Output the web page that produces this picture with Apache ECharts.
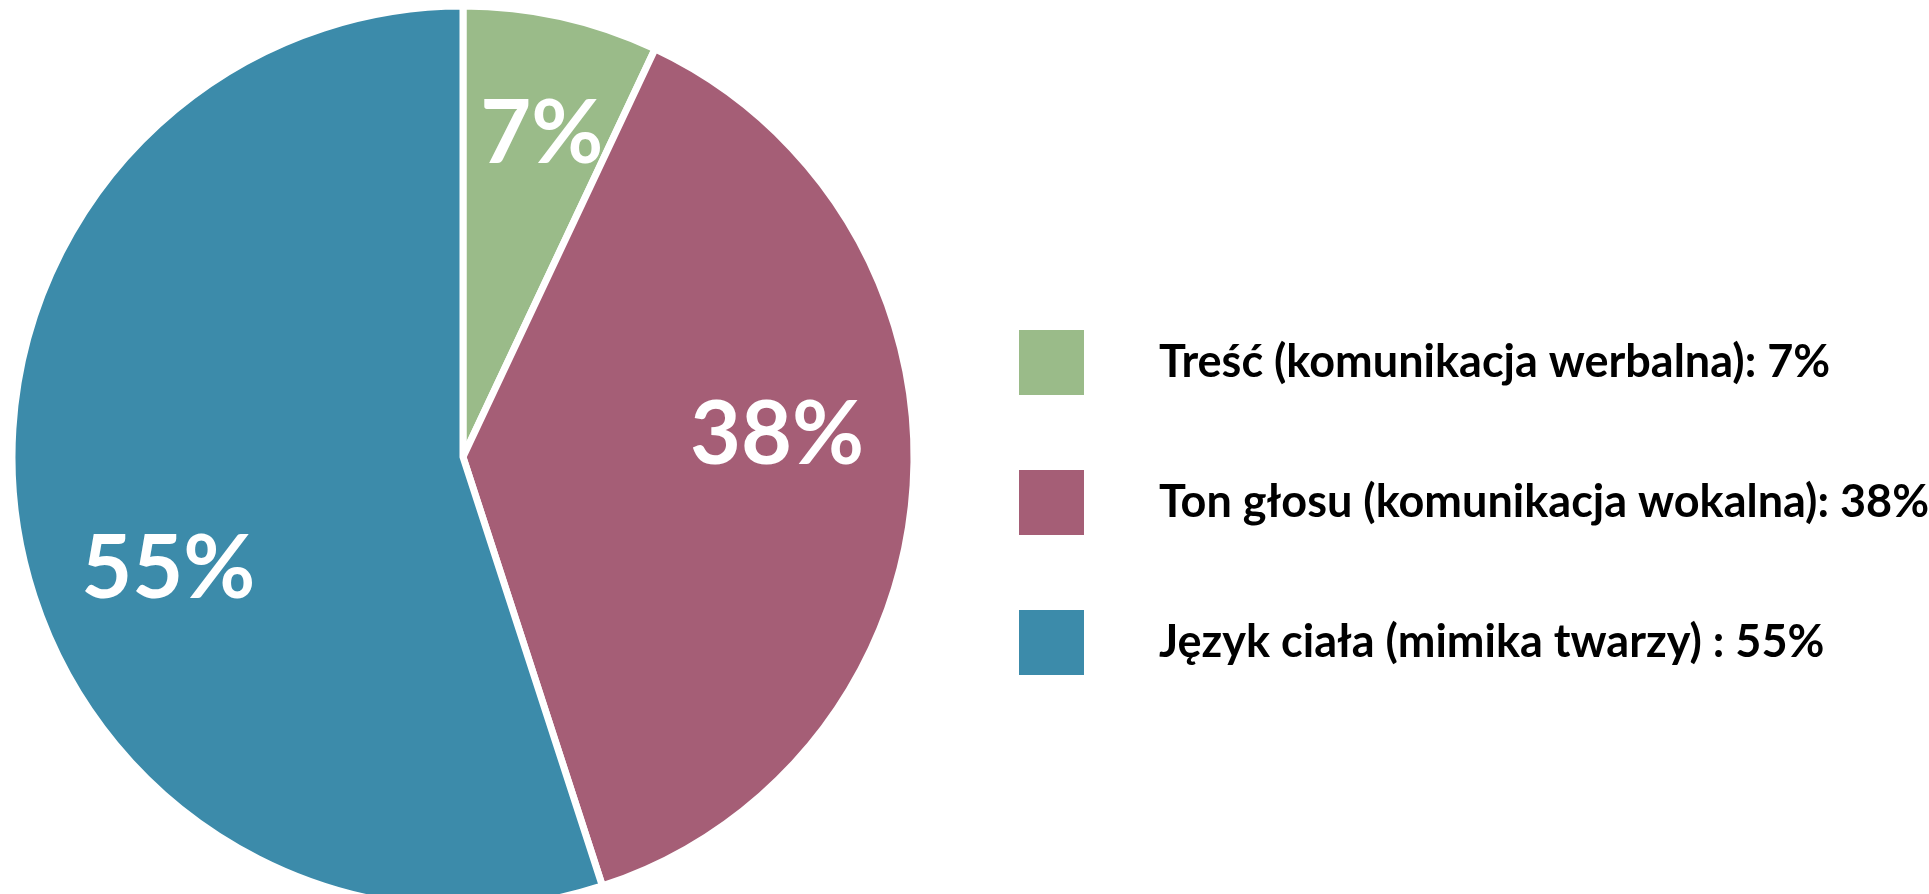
<!DOCTYPE html>
<html>
<head>
<meta charset="utf-8">
<title>Komunikacja</title>
<script src="https://cdn.jsdelivr.net/npm/echarts@6/dist/echarts.min.js"></script>
<style>
  html, body { margin: 0; padding: 0; background: #fff; }
  #chart { width: 1929px; height: 894px; }
</style>
</head>
<body>
<div id="chart"></div>
<script>
// slice names, values and the legend texts as printed
const categories = ['Treść (komunikacja werbalna)', 'Ton głosu (komunikacja wokalna)', 'Język ciała (mimika twarzy)']
const values = [7, 38, 55]
const legendLabels = ['Treść (komunikacja werbalna): 7%', 'Ton głosu (komunikacja wokalna): 38%', 'Język ciała (mimika twarzy) : 55%']

const COLORS = ['#9abb89', '#a55e76', '#3c8baa']
// labels sit further out than echarts' default 'inside' spot
const LABEL_OFFSETS = [[29, -99], [86, -36], [-69, 77]]
const FONT = 'Lato, "Open Sans", sans-serif'

const chart = echarts.init(document.getElementById('chart'))

chart.setOption({
  backgroundColor: '#ffffff',
  animation: false,
  legend: {
    orient: 'vertical',
    left: 1012,
    top: 323,
    itemWidth: 67,
    itemHeight: 67,
    itemGap: 71,
    icon: 'rect',
    selectedMode: false,
    data: categories,
    formatter: (name) => legendLabels[categories.indexOf(name)],
    textStyle: {
      fontFamily: FONT,
      fontWeight: 'bold',
      fontSize: 45,
      color: '#000',
      padding: [0, 0, 0, 69]
    }
  },
  series: [
    {
      type: 'pie',
      center: [463, 457],
      radius: 451,
      startAngle: 90,
      clockwise: true,
      itemStyle: { borderColor: '#fff', borderWidth: 7 },
      label: {
        show: true,
        position: 'inside',
        formatter: '{c}%',
        color: '#fff',
        fontFamily: FONT,
        fontWeight: 'bold',
        fontSize: 88
      },
      labelLine: { show: false },
      emphasis: { disabled: true },
      data: categories.map((name, i) => ({
        name,
        value: values[i],
        itemStyle: { color: COLORS[i] },
        label: { offset: LABEL_OFFSETS[i] }
      }))
    }
  ]
})
</script>
</body>
</html>
